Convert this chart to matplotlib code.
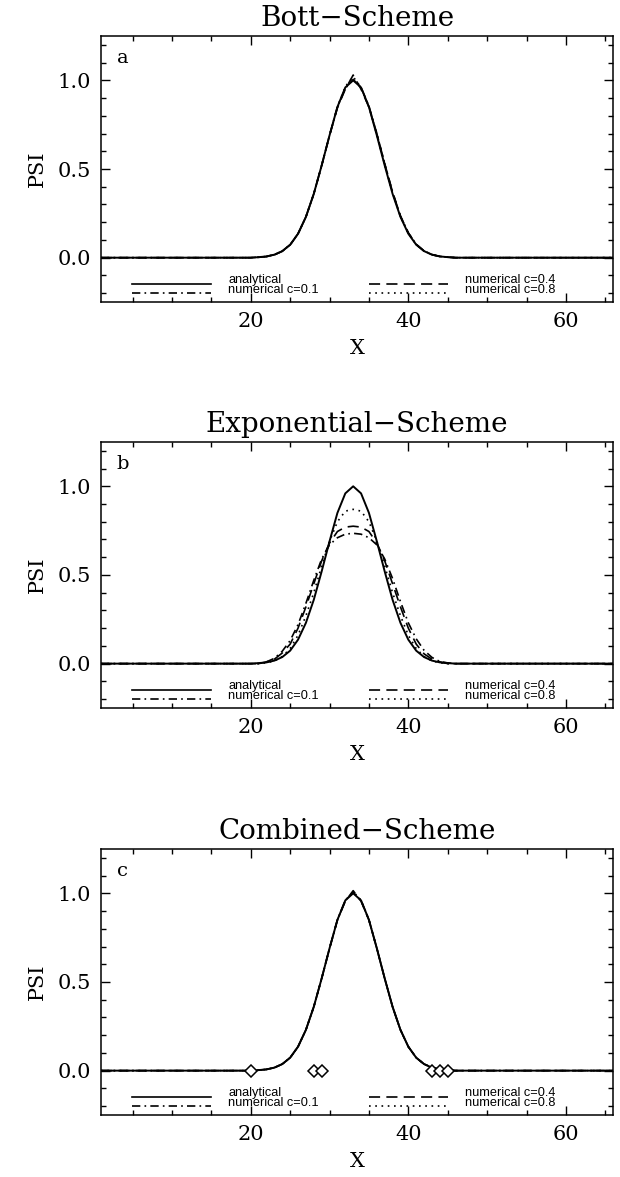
import numpy as np
import matplotlib
matplotlib.use("Agg")
import matplotlib.pyplot as plt
from matplotlib.ticker import MultipleLocator

plt.rcParams.update({
    "font.family": ["DejaVu Serif"],
    "lines.scale_dashes": False,
    "axes.linewidth": 1.1,
    "xtick.direction": "in",
    "ytick.direction": "in",
    "xtick.top": True,
    "ytick.right": True,
    "xtick.major.size": 6.5,
    "ytick.major.size": 6.5,
    "xtick.minor.size": 3.5,
    "ytick.minor.size": 3.5,
    "xtick.labelsize": 15,
    "ytick.labelsize": 15,
})

# ------------------------------------------------------------
#  Données : grille 1..66, valeurs non nulles
#  données à partir de x = 20
# ------------------------------------------------------------
X_GRID = np.arange(1, 67)
START = 20

analytical = [0.0, 0.003, 0.007, 0.017, 0.037, 0.073, 0.135, 0.23, 0.36, 0.52,
              0.69, 0.85, 0.96, 1.0, 0.96, 0.85, 0.69, 0.52, 0.36, 0.23,
              0.135, 0.073, 0.037, 0.017, 0.007, 0.003, 0.0]

# a : Bott
bott_c01 = [0.0, 0.003, 0.007, 0.017, 0.037, 0.073, 0.135, 0.23, 0.36, 0.52,
            0.69, 0.85, 0.955, 1.005, 0.96, 0.855, 0.70, 0.53, 0.37, 0.235,
            0.14, 0.076, 0.038, 0.018, 0.007, 0.003, 0.0]
bott_c04 = [0.0, 0.002, 0.006, 0.016, 0.036, 0.072, 0.134, 0.23, 0.36, 0.52,
            0.69, 0.845, 0.95, 1.03, 0.95, 0.85, 0.70, 0.53, 0.37, 0.235,
            0.14, 0.075, 0.037, 0.017, 0.007, 0.003, 0.0]
bott_c08 = [0.0, 0.003, 0.007, 0.017, 0.037, 0.073, 0.135, 0.23, 0.36, 0.52,
            0.69, 0.85, 0.965, 1.02, 0.96, 0.85, 0.695, 0.525, 0.365, 0.232,
            0.137, 0.074, 0.037, 0.017, 0.007, 0.003, 0.0]

# b : Exponential
exp_c01 = [0.0, 0.0, 0.01, 0.03, 0.07, 0.13, 0.22, 0.34, 0.47, 0.59,
           0.67, 0.71, 0.73, 0.735, 0.73, 0.71, 0.67, 0.59, 0.48, 0.35,
           0.23, 0.14, 0.075, 0.035, 0.012, 0.004, 0.0]
exp_c04 = [0.0, 0.0, 0.01, 0.025, 0.06, 0.11, 0.20, 0.32, 0.45, 0.58,
           0.68, 0.745, 0.77, 0.775, 0.77, 0.745, 0.68, 0.58, 0.45, 0.32,
           0.20, 0.11, 0.055, 0.025, 0.01, 0.0, 0.0]
exp_c08 = [0.0, 0.0, 0.005, 0.015, 0.04, 0.085, 0.16, 0.27, 0.40, 0.55,
           0.69, 0.80, 0.86, 0.87, 0.86, 0.80, 0.69, 0.55, 0.40, 0.27,
           0.16, 0.085, 0.04, 0.015, 0.005, 0.0, 0.0]

# c : Combined
comb_c01 = [0.0, 0.003, 0.007, 0.017, 0.037, 0.073, 0.135, 0.23, 0.36, 0.52,
            0.69, 0.85, 0.96, 1.005, 0.96, 0.85, 0.69, 0.52, 0.36, 0.23,
            0.135, 0.073, 0.037, 0.017, 0.007, 0.003, 0.0]
comb_c04 = [0.0, 0.003, 0.007, 0.017, 0.037, 0.073, 0.135, 0.23, 0.36, 0.52,
            0.69, 0.85, 0.955, 1.015, 0.955, 0.85, 0.69, 0.52, 0.36, 0.23,
            0.135, 0.073, 0.037, 0.017, 0.007, 0.003, 0.0]
comb_c08 = [0.0, 0.003, 0.007, 0.017, 0.037, 0.073, 0.135, 0.23, 0.36, 0.52,
            0.69, 0.85, 0.96, 1.01, 0.96, 0.85, 0.69, 0.52, 0.36, 0.23,
            0.135, 0.073, 0.037, 0.017, 0.007, 0.003, 0.0]
comb_flag_x = [20, 28, 29, 43, 44, 45]
comb_flag_y = [0.0, 0.0, 0.0, 0.0, 0.0, 0.0]

TITLES = ["Bott\u2212Scheme", "Exponential\u2212Scheme", "Combined\u2212Scheme"]
LETTERS = ["a", "b", "c"]
PANELS = [
    (bott_c01, bott_c04, bott_c08),
    (exp_c01, exp_c04, exp_c08),
    (comb_c01, comb_c04, comb_c08),
]

LABELS = ["analytical", "numerical c=0.1", "numerical c=0.4", "numerical c=0.8"]
STYLES = [
    dict(linestyle="-"),
    dict(linestyle=(0, (6, 3, 1.2, 3))),
    dict(linestyle=(0, (8, 4.5))),
    dict(linestyle=(0, (1.2, 3.3))),
]


def on_grid(vals):
    y = np.zeros(len(X_GRID))
    y[START - 1:START - 1 + len(vals)] = vals
    return y


def draw_legend(ax):
    """Légende manuelle façon IDL, en coordonnées d'axes."""
    tr = ax.transAxes
    spots = [(0.06, 0.068), (0.06, 0.034), (0.523, 0.068), (0.523, 0.034)]
    for (x0, y0), st in zip(spots, STYLES):
        ax.plot([x0, x0 + 0.155], [y0, y0], transform=tr, color="black",
                lw=1.2, **st)
    kw = dict(transform=tr, fontsize=9.2, family=["Liberation Sans"],
              va="center", ha="left", linespacing=0.75)
    ax.text(0.248, 0.064, LABELS[0] + "\n" + LABELS[1], **kw)
    ax.text(0.711, 0.064, LABELS[2] + "\n" + LABELS[3], **kw)


fig = plt.figure(figsize=(6.2, 11.77), dpi=100)
bottoms = [0.7434, 0.3985, 0.0527]

for i, (title, letter, curves) in enumerate(zip(TITLES, LETTERS, PANELS)):
    ax = fig.add_axes([0.163, bottoms[i], 0.826, 0.226])
    ax.plot(X_GRID, on_grid(analytical), color="black", lw=1.4, **STYLES[0])
    for vals, st in zip(curves, STYLES[1:]):
        ax.plot(X_GRID, on_grid(vals), color="black", lw=1.2, **st)
    if i == 2:
        ax.plot(comb_flag_x, comb_flag_y, linestyle="none", marker="D",
                markersize=6.3, markerfacecolor="white",
                markeredgecolor="black", markeredgewidth=1.1)

    ax.set_xlim(1, 66)
    ax.set_ylim(-0.25, 1.25)
    ax.xaxis.set_major_locator(MultipleLocator(20))
    ax.xaxis.set_minor_locator(MultipleLocator(5))
    ax.yaxis.set_minor_locator(MultipleLocator(0.1))
    ax.set_yticks([0.0, 0.5, 1.0])
    ax.yaxis.set_major_formatter(plt.FormatStrFormatter("%.1f"))
    ax.tick_params(which="both", width=1.0, pad=7)

    ax.set_title(title, fontsize=20, pad=7)
    ax.set_xlabel("X", fontsize=15, labelpad=6)
    ax.set_ylabel("PSI", fontsize=15, labelpad=8)
    ax.text(0.031, 0.9, letter, transform=ax.transAxes, fontsize=14,
            va="baseline", ha="left")
    draw_legend(ax)

fig.savefig("out.png", dpi=100)
